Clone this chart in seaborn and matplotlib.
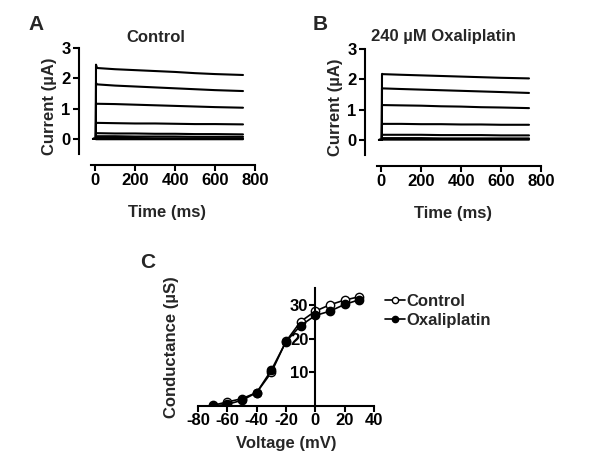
import numpy as np
import pandas as pd
import matplotlib
matplotlib.use("Agg")
import matplotlib.pyplot as plt
import seaborn as sns

# current traces, time in ms, current in uA
trace_time = [-10, 4, 5, 10, 100, 200, 300, 400, 500, 600, 740]

control_traces = [
    [0.0, 0.0, 2.45, 2.34, 2.30, 2.27, 2.24, 2.21, 2.17, 2.14, 2.11],
    [0.0, 0.0, 1.85, 1.80, 1.76, 1.73, 1.70, 1.67, 1.64, 1.61, 1.58],
    [0.0, 0.0, 1.17, 1.16, 1.15, 1.13, 1.11, 1.09, 1.07, 1.05, 1.03],
    [0.0, 0.0, 0.53, 0.53, 0.52, 0.51, 0.51, 0.50, 0.49, 0.49, 0.48],
    [0.0, 0.0, 0.19, 0.19, 0.18, 0.18, 0.17, 0.17, 0.16, 0.16, 0.15],
    [0.0, 0.0, 0.09, 0.09, 0.09, 0.08, 0.08, 0.08, 0.07, 0.07, 0.07],
    [0.0, 0.0, 0.03, 0.03, 0.03, 0.03, 0.02, 0.02, 0.02, 0.02, 0.02],
    [0.0, 0.0, -0.01, -0.01, -0.01, -0.01, -0.01, -0.01, -0.01, -0.01, -0.01],
]

oxali_traces = [
    [0.0, 0.0, 2.18, 2.17, 2.15, 2.13, 2.11, 2.09, 2.07, 2.05, 2.03],
    [0.0, 0.0, 1.71, 1.70, 1.68, 1.66, 1.64, 1.62, 1.60, 1.58, 1.55],
    [0.0, 0.0, 1.15, 1.15, 1.14, 1.13, 1.11, 1.10, 1.08, 1.07, 1.05],
    [0.0, 0.0, 0.53, 0.53, 0.53, 0.52, 0.52, 0.51, 0.51, 0.50, 0.50],
    [0.0, 0.0, 0.17, 0.17, 0.17, 0.17, 0.16, 0.16, 0.16, 0.15, 0.15],
    [0.0, 0.0, 0.06, 0.06, 0.06, 0.06, 0.05, 0.05, 0.05, 0.05, 0.05],
    [0.0, 0.0, 0.01, 0.01, 0.01, 0.01, 0.01, 0.01, 0.01, 0.01, 0.01],
]

# conductance-voltage
voltage = [-70, -60, -50, -40, -30, -20, -10, 0, 10, 20, 30]
g_control = [0.2, 1.2, 2.2, 4.0, 10.0, 19.3, 25.2, 28.3, 30.2, 31.6, 32.6]
g_oxali = [0.0, 0.5, 1.7, 4.0, 10.7, 19.2, 24.0, 27.0, 28.3, 30.3, 31.7]


def traces_df(traces):
    rows = []
    for i, tr in enumerate(traces):
        for t, v in zip(trace_time, tr):
            rows.append({"trace": i, "t": t, "I": v})
    return pd.DataFrame(rows)


sns.set_style("ticks")
plt.rcParams["font.family"] = ["Liberation Sans", "DejaVu Sans"]
plt.rcParams["font.weight"] = "bold"
plt.rcParams["axes.labelweight"] = "bold"
plt.rcParams["axes.unicode_minus"] = False
plt.rcParams["axes.linewidth"] = 1.5
plt.rcParams["xtick.major.width"] = 1.5
plt.rcParams["ytick.major.width"] = 1.5
plt.rcParams["xtick.major.size"] = 4
plt.rcParams["ytick.major.size"] = 4
plt.rcParams["xtick.color"] = "black"
plt.rcParams["ytick.color"] = "black"
plt.rcParams["axes.edgecolor"] = "black"

FS = 12
fig = plt.figure(figsize=(6, 4.71), dpi=100)


def trace_panel(rect, traces, title, title_x, letter, letter_x):
    ax = fig.add_axes(rect)
    sns.lineplot(data=traces_df(traces), x="t", y="I", units="trace",
                 estimator=None, color="black", lw=1.5, ax=ax, legend=False)
    ax.set_xlim(-80, 805)
    ax.set_ylim(-0.86, 3)
    ax.spines["bottom"].set_bounds(-20, 800)
    ax.spines["left"].set_bounds(-0.5, 3)
    sns.despine(ax=ax)
    ax.set_xticks([0, 200, 400, 600, 800])
    ax.set_yticks([0, 1, 2, 3])
    ax.tick_params(labelsize=FS, pad=2)
    ax.set_xlabel("Time (ms)", fontsize=FS, labelpad=12)
    ax.set_ylabel("Current (\u00b5A)", fontsize=FS, labelpad=3)
    fig.text(title_x, 1 - 37 / 471, title, ha="center", va="center",
             fontsize=FS, fontweight="bold")
    fig.text(letter_x, 1 - 24 / 471, letter, ha="center", va="center",
             fontsize=15, fontweight="bold")
    return ax


trace_panel([79 / 600, 1 - 165 / 471, 177 / 600, 117 / 471], control_traces,
            "Control", 156 / 600, "A", 36 / 600)
trace_panel([365 / 600, 1 - 166 / 471, 177 / 600, 117 / 471], oxali_traces,
            "240 \u00b5M Oxaliplatin", 443 / 600, "B", 320 / 600)

# panel C
axc = fig.add_axes([198 / 600, 1 - 406 / 471, 176 / 600, 118 / 471])
sns.lineplot(x=voltage, y=g_control, color="black", lw=1.2, marker="o",
             markersize=6, markerfacecolor="white", markeredgecolor="black",
             markeredgewidth=1.0, ax=axc, label="Control")
sns.lineplot(x=voltage, y=g_oxali, color="black", lw=1.2, marker="o",
             markersize=6, markerfacecolor="black", markeredgecolor="black",
             markeredgewidth=1.0, ax=axc, label="Oxaliplatin")
axc.set_xlim(-80, 40)
axc.set_ylim(0, 35.2)
axc.spines["left"].set_position(("data", 0))
axc.spines["right"].set_visible(False)
axc.spines["top"].set_visible(False)
axc.set_xticks([-80, -60, -40, -20, 0, 20, 40])
axc.set_yticks([10, 20, 30])
axc.tick_params(labelsize=FS, pad=1)
axc.set_xlabel("Voltage (mV)", fontsize=FS, labelpad=6)
axc.set_ylabel("Conductance (\u00b5S)", fontsize=FS)
axc.yaxis.set_label_coords(-0.11, 0.5)
axc.legend(loc="center left", bbox_to_anchor=(385 / 600, 1 - 311 / 471),
           bbox_transform=fig.transFigure, frameon=False, fontsize=FS,
           handlelength=1.2, handletextpad=0.1, labelspacing=0.2,
           borderaxespad=0, borderpad=0, markerscale=0.75)
fig.text(148 / 600, 1 - 262 / 471, "C", ha="center", va="center",
         fontsize=15, fontweight="bold")

fig.savefig("out.png", dpi=100)
